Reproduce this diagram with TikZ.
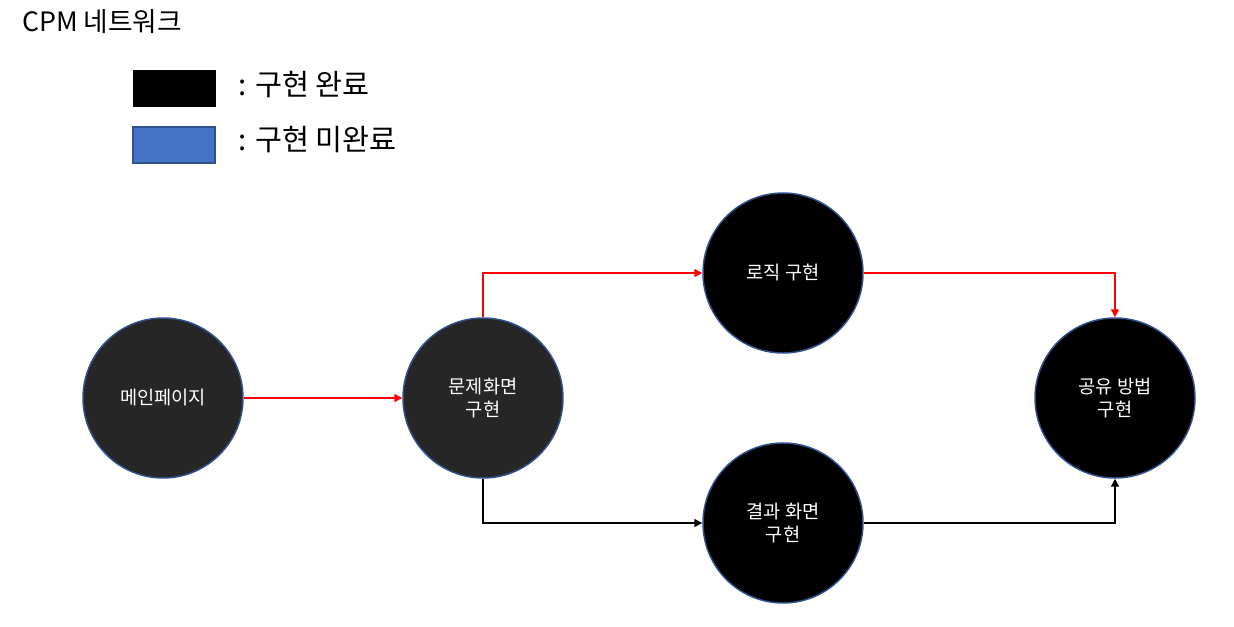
\documentclass[tikz,border=0pt]{standalone}
\usepackage{fontspec}
\setmainfont{Noto Sans CJK KR}
\usetikzlibrary{arrows.meta}
\definecolor{nodeedge}{HTML}{2F528F}
\definecolor{legblue}{HTML}{4472C4}
\definecolor{darkfill}{HTML}{262626}
\definecolor{arrred}{HTML}{FF0000}
\tikzset{
  evnode/.style={circle, draw=nodeedge, line width=1.1pt, minimum size=120pt, inner sep=0pt,
    text=white, align=center, font=\fontsize{14pt}{17pt}\selectfont},
  donefill/.style={fill=black},
  grayfill/.style={fill=darkfill},
  conn/.style={line width=1.1pt, -{Triangle[length=6pt,width=6pt]}},
  redconn/.style={conn, draw=arrred, arrows={-{Triangle[length=6pt,width=6pt,fill=arrred]}}},
  blackconn/.style={conn, draw=black},
  legtext/.style={anchor=west, inner sep=0pt, font=\fontsize{22pt}{26pt}\selectfont},
}
\begin{document}
\begin{tikzpicture}[x=0.75pt,y=-0.75pt]
\useasboundingbox (0,0) rectangle (1234,627);
\node[anchor=west, inner sep=0pt, font=\fontsize{20pt}{24pt}\selectfont] (title) at (22,22) {CPM 네트워크};
\node[draw=black, fill=black, minimum width=61.5pt, minimum height=27pt, inner sep=0pt] (legdone) at (174,88) {};
\node[draw=nodeedge, line width=1pt, fill=legblue, minimum width=61.5pt, minimum height=27pt, inner sep=0pt] (legtodo) at (174,145) {};
\node[legtext] (legdonetxt) at (238,85) {: 구현 완료};
\node[legtext] (legtodotxt) at (238,140) {: 구현 미완료};

\node[evnode, grayfill] (main) at (163,398) {메인페이지};
\node[evnode, grayfill] (prob) at (483,398) {문제화면\\구현};
\node[evnode, donefill] (logic) at (783,273) {로직 구현};
\node[evnode, donefill] (result) at (783,523) {결과 화면\\구현};
\node[evnode, donefill] (share) at (1115,398) {공유 방법\\구현};

\draw[redconn] (main) -- (prob);
\draw[redconn] (prob.north) |- (logic.west);
\draw[blackconn] (prob.south) |- (result.west);
\draw[redconn] (logic.east) -| (share.north);
\draw[blackconn] (result.east) -| (share.south);
\end{tikzpicture}
\end{document}
